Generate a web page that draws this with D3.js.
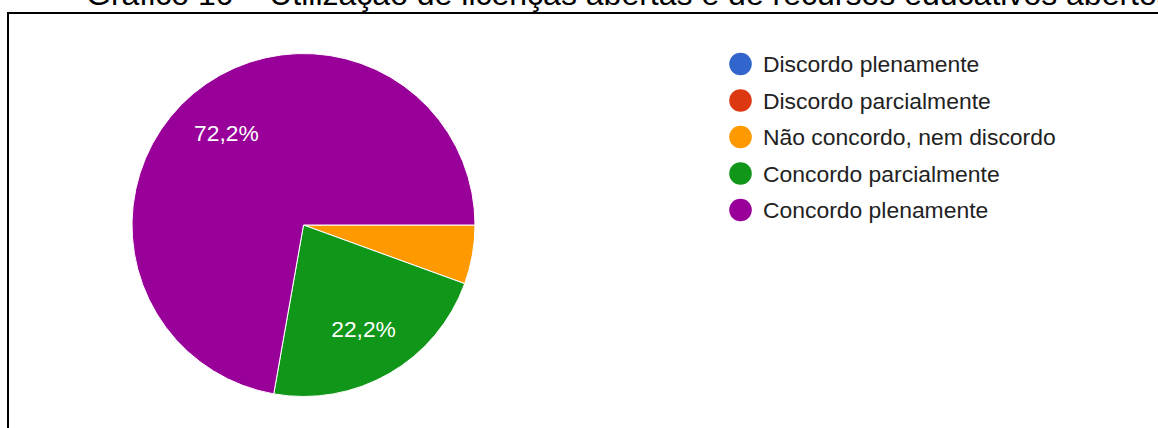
<!DOCTYPE html>
<html lang="pt">
<head>
<meta charset="utf-8">
<script src="https://cdn.jsdelivr.net/npm/d3@7"></script>
<style>
  html, body { margin: 0; padding: 0; background: #fff; }
  svg { display: block; }
</style>
</head>
<body>
<svg id="chart" width="1158" height="428"></svg>
<script>
// Respostas: "Utilização de licenças abertas e de recursos educativos abertos"
const categories = [
  "Discordo plenamente",
  "Discordo parcialmente",
  "Não concordo, nem discordo",
  "Concordo parcialmente",
  "Concordo plenamente"
];
const counts = [0, 0, 1, 4, 13];
const colors = ["#3366cc", "#dc3912", "#ff9900", "#109618", "#990099"];
const titleText = "Gráfico 10 – Utilização de licenças abertas e de recursos educativos abertos";

const svg = d3.select("#chart");
const W = 1158, H = 428;

// Title (runs off the top edge of the frame)
svg.append("text")
  .attr("x", 86)
  .attr("y", 5)
  .attr("font-family", "'Liberation Sans', Arial, sans-serif")
  .attr("font-size", 32)
  .attr("fill", "#000")
  .text(titleText);

// Frame around the chart
svg.append("path")
  .attr("d", `M8,${H + 5} L8,13 L${W + 5},13`)
  .attr("fill", "none")
  .attr("stroke", "#000")
  .attr("stroke-width", 2);

// Pie
const cx = 303.5, cy = 225, r = 171.5;
const total = d3.sum(counts);
const data = categories.map((c, i) => ({ name: c, value: counts[i], color: colors[i] }));

const pie = d3.pie()
  .value(d => d.value)
  .sort(null)
  .startAngle(Math.PI / 2)
  .endAngle(Math.PI / 2 + 2 * Math.PI);

const arcs = pie(data).filter(d => d.data.value > 0);
const arc = d3.arc().innerRadius(0).outerRadius(r);
const labelArc = d3.arc().innerRadius(r * 0.7).outerRadius(r * 0.7);

const g = svg.append("g").attr("transform", `translate(${cx},${cy})`);

g.selectAll("path.slice")
  .data(arcs)
  .join("path")
  .attr("class", "slice")
  .attr("d", arc)
  .attr("fill", d => d.data.color)
  .attr("stroke", "#fff")
  .attr("stroke-width", 1);

const fmt = v => (Math.round(v * 1000) / 10).toFixed(1).replace(".", ",") + "%";

g.selectAll("text.pct")
  .data(arcs.filter(d => d.data.value / total > 0.1))
  .join("text")
  .attr("class", "pct")
  .attr("transform", d => `translate(${labelArc.centroid(d)})`)
  .attr("text-anchor", "middle")
  .attr("dy", "0.36em")
  .attr("font-family", "'Liberation Sans', Arial, sans-serif")
  .attr("font-size", 22.8)
  .attr("fill", "#fff")
  .text(d => fmt(d.data.value / total));

// Legend
const legend = svg.append("g").attr("transform", "translate(740.5,64)");
const rowH = 36.5;
const rows = legend.selectAll("g.item")
  .data(data)
  .join("g")
  .attr("class", "item")
  .attr("transform", (d, i) => `translate(0,${i * rowH})`);

rows.append("circle")
  .attr("r", 11.3)
  .attr("fill", d => d.color);

rows.append("text")
  .attr("x", 22.5)
  .attr("dy", "0.36em")
  .attr("font-family", "'Liberation Sans', Arial, sans-serif")
  .attr("font-size", 22.9)
  .attr("fill", "#222")
  .text(d => d.name);
</script>
</body>
</html>
